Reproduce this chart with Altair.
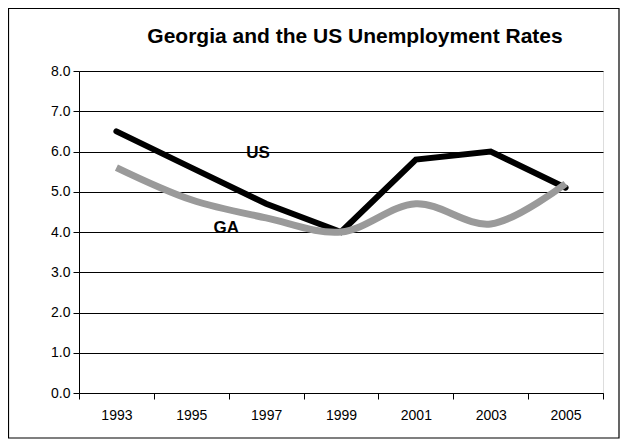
import altair as alt
import pandas as pd

years = ["1993", "1995", "1997", "1999", "2001", "2003", "2005"]
us_rate = [6.5, 5.6, 4.7, 4.0, 5.8, 6.0, 5.1]
ga_rate = [5.6, 4.8, 4.35, 4.0, 4.7, 4.2, 5.2]
y_ticks = [0, 1, 2, 3, 4, 5, 6, 7, 8]
title_text = "Georgia and the US Unemployment Rates"

FONT = "Liberation Sans"
W, H = 524, 322

us_df = pd.DataFrame({"year": years, "rate": us_rate})
ga_df = pd.DataFrame({"year": years, "rate": ga_rate})

x_enc = alt.X("year:N", sort=years, title=None,
              scale=alt.Scale(paddingInner=0, paddingOuter=0),
              axis=alt.Axis(labelAngle=0, tickBand="extent", domainColor="black",
                            tickColor="black", tickSize=6, labelFont=FONT,
                            labelFontSize=14, labelColor="black", labelPadding=9,
                            grid=False))
y_enc = alt.Y("rate:Q", title=None,
              scale=alt.Scale(domain=[0, 8], nice=False, zero=True),
              axis=alt.Axis(values=y_ticks, format=".1f", domainColor="black",
                            tickColor="black", tickSize=6, labelFont=FONT,
                            labelFontSize=14, labelColor="black", labelPadding=3,
                            grid=True, gridColor="black", gridWidth=1, gridOpacity=1))

border = alt.Chart(pd.DataFrame({"k": [0]})).mark_rect(
    fill=None, stroke="black", strokeWidth=1.2).encode(
    x=alt.value(-70.5), x2=alt.value(540), y=alt.value(-62.5), y2=alt.value(367))

title = alt.Chart(pd.DataFrame({"t": [title_text]})).mark_text(
    font=FONT, fontSize=21, fontWeight="bold", color="black",
    align="center", baseline="middle").encode(
    x=alt.value(276), y=alt.value(-34), text="t:N")

us_line = alt.Chart(us_df).mark_line(color="black", strokeWidth=6, strokeCap="round",
                                     strokeJoin="miter").encode(x=x_enc, y=y_enc)
ga_line = alt.Chart(ga_df).mark_line(color="#9a9a9a", strokeWidth=7,
                                     interpolate="catmull-rom").encode(x=x_enc, y=y_enc)

us_lab = alt.Chart(pd.DataFrame({"year": ["1997"], "rate": [5.96], "t": ["US"]})).mark_text(
    font=FONT, fontSize=17, fontWeight="bold", color="black", dx=-8).encode(
    x=alt.X("year:N", sort=years), y="rate:Q", text="t:N")
ga_lab = alt.Chart(pd.DataFrame({"year": ["1995"], "rate": [4.1], "t": ["GA"]})).mark_text(
    font=FONT, fontSize=17, fontWeight="bold", color="black", dx=35).encode(
    x=alt.X("year:N", sort=years), y="rate:Q", text="t:N")

chart = alt.layer(border, title, us_line, ga_line, us_lab, ga_lab).properties(
    width=W, height=H,
    autosize=alt.AutoSizeParams(type="none"),
    padding={"left": 71, "top": 63, "right": 17, "bottom": 46},
).configure_view(stroke="#808080", strokeWidth=2).configure(background="white")

chart.save("out.html", embed_options={"renderer": "svg", "actions": False})
